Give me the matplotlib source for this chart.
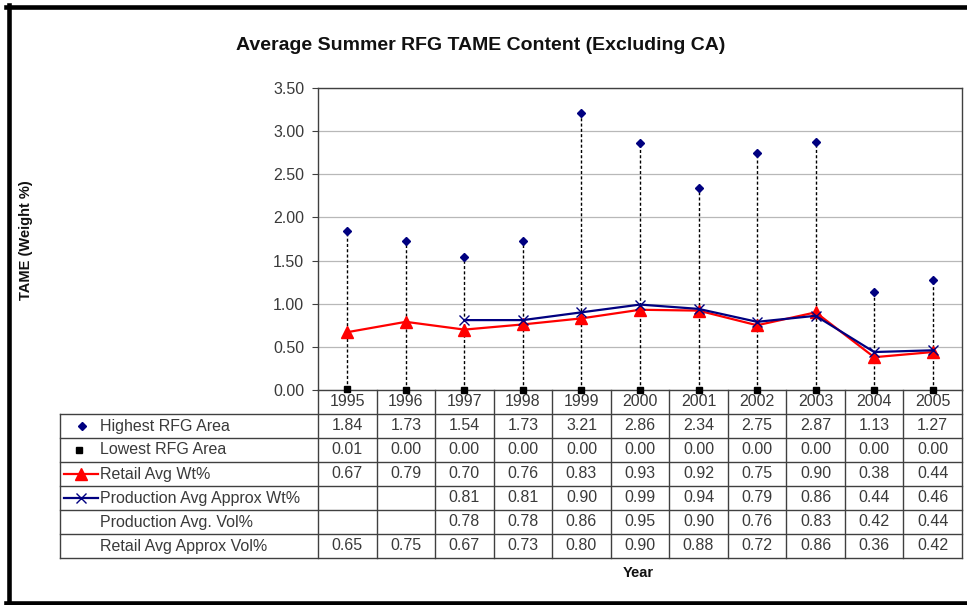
import numpy as np
import matplotlib
matplotlib.use("Agg")
import matplotlib.pyplot as plt
from matplotlib.lines import Line2D

plt.rcParams['font.family'] = ['Liberation Sans', 'DejaVu Sans']

# ---------------- data ----------------
years = ['1995', '1996', '1997', '1998', '1999', '2000', '2001', '2002', '2003', '2004', '2005']
highest = [1.84, 1.73, 1.54, 1.73, 3.21, 2.86, 2.34, 2.75, 2.87, 1.13, 1.27]
lowest = [0.01, 0.00, 0.00, 0.00, 0.00, 0.00, 0.00, 0.00, 0.00, 0.00, 0.00]
retail_wt = [0.67, 0.79, 0.70, 0.76, 0.83, 0.93, 0.92, 0.75, 0.90, 0.38, 0.44]
prod_wt = [None, None, 0.81, 0.81, 0.90, 0.99, 0.94, 0.79, 0.86, 0.44, 0.46]
prod_vol = [None, None, 0.78, 0.78, 0.86, 0.95, 0.90, 0.76, 0.83, 0.42, 0.44]
retail_vol = [0.65, 0.75, 0.67, 0.73, 0.80, 0.90, 0.88, 0.72, 0.86, 0.36, 0.42]
row_labels = ['Highest RFG Area', 'Lowest RFG Area', 'Retail Avg Wt%',
              'Production Avg Approx Wt%', 'Production Avg. Vol%', 'Retail Avg Approx Vol%']
yticks = [0.0, 0.5, 1.0, 1.5, 2.0, 2.5, 3.0, 3.5]

W, H = 967, 605
def fx(px):
    return px / W
def fy(py):
    return 1 - py / H

fig = plt.figure(figsize=(W / 100, H / 100), dpi=100)
fig.patch.set_facecolor('white')

TXT = '#3a3a3a'
NAVY = '#000080'

# ---------------- main plot ----------------
L, R, T, B = 318, 962, 88, 390
ax = fig.add_axes([fx(L), fy(B), (R - L) / W, (B - T) / H])
x = np.arange(len(years))
ax.set_xlim(-0.5, len(years) - 0.5)
ax.set_ylim(0, 3.5)
ax.set_yticks(yticks)
ax.set_yticklabels([f'{v:.2f}' for v in yticks])
ax.set_xticks([])
ax.tick_params(axis='y', direction='out', length=4, width=0.8, color='#404040',
               labelcolor=TXT, labelsize=11.5, pad=6)
for s in ax.spines.values():
    s.set_color('#404040')
    s.set_linewidth(1.0)
ax.grid(axis='y', color='#b8b8b8', lw=0.9)
ax.set_axisbelow(True)

ax.vlines(x, lowest, highest, colors='black', linestyles=(0, (2.2, 1.6)), lw=1.0, zorder=2)
ax.plot(x, highest, ls='none', marker='D', ms=4, color=NAVY, zorder=3)
ax.plot(x, lowest, ls='none', marker='s', ms=5, color='black', zorder=3, clip_on=False)
ax.plot(x, retail_wt, color='red', lw=1.6, marker='^', ms=9, zorder=4)
px_ = [i for i, v in enumerate(prod_wt) if v is not None]
pv_ = [v for v in prod_wt if v is not None]
ax.plot(px_, pv_, color=NAVY, lw=1.6, marker='x', ms=7, mew=1.0, zorder=5)

# ---------------- data table ----------------
TL, TB = 60, 558
colw = (R - L) / len(years)
labw = (L - TL) / colw
nrows = len(row_labels) + 1
tax = fig.add_axes([fx(TL), fy(TB), (R - TL) / W, (TB - B) / H])
tax.set_xlim(-0.5 - labw, len(years) - 0.5)
tax.set_ylim(nrows, 0)
tax.axis('off')

lc = '#404040'
lw = 1.0
x0 = -0.5 - labw
xe = len(years) - 0.5
for r in range(1, nrows + 1):
    tax.plot([x0, xe], [r, r], color=lc, lw=lw, clip_on=False)
tax.plot([x0, x0], [1, nrows], color=lc, lw=lw, clip_on=False)
for k in range(len(years) + 1):
    tax.plot([k - 0.5, k - 0.5], [0, nrows], color=lc, lw=lw, clip_on=False)

fs = 11.5
for i, yr in enumerate(years):
    tax.text(i, 0.5, yr, ha='center', va='center', fontsize=fs, color=TXT)
series = [highest, lowest, retail_wt, prod_wt, prod_vol, retail_vol]
for r, vals in enumerate(series):
    for i, v in enumerate(vals):
        if v is not None:
            tax.text(i, r + 1.5, f'{v:.2f}', ha='center', va='center', fontsize=fs, color=TXT)

def cx(px):
    return x0 + (px - TL) / colw

for r, lab in enumerate(row_labels):
    tax.text(cx(100), r + 1.5, lab, ha='left', va='center', fontsize=fs, color=TXT)

# legend keys
tax.plot([cx(82)], [1.5], marker='D', ms=4, color=NAVY, clip_on=False)
tax.plot([cx(79)], [2.5], marker='s', ms=5, color='black', clip_on=False)
tax.plot([cx(64), cx(98)], [3.5, 3.5], color='red', lw=1.6, clip_on=False)
tax.plot([cx(81)], [3.5], marker='^', ms=9, color='red', clip_on=False)
tax.plot([cx(64), cx(98)], [4.5, 4.5], color=NAVY, lw=1.6, clip_on=False)
tax.plot([cx(81)], [4.5], marker='x', ms=7, mew=1.0, color=NAVY, clip_on=False)

# ---------------- texts ----------------
fig.text(fx(481), fy(45), 'Average Summer RFG TAME Content (Excluding CA)',
         ha='center', va='center', fontsize=14, fontweight='bold', color='#111111')
fig.text(fx(26), fy(240), 'TAME (Weight %)', ha='center', va='center', rotation=90,
         fontsize=10.5, fontweight='bold', color='#111111')
fig.text(fx(638), fy(573), 'Year', ha='center', va='center', fontsize=10.5,
         fontweight='bold', color='#111111')

# ---------------- outer frame ----------------
bw = 3.3
fig.add_artist(Line2D([fx(8.5), fx(8.5)], [fy(5), fy(605)], lw=bw, color='black'))
fig.add_artist(Line2D([fx(6), fx(967)], [fy(7), fy(7)], lw=bw, color='black'))
fig.add_artist(Line2D([fx(6), fx(967)], [fy(603), fy(603)], lw=bw, color='black'))

fig.savefig('out.png', dpi=100, facecolor='white')
